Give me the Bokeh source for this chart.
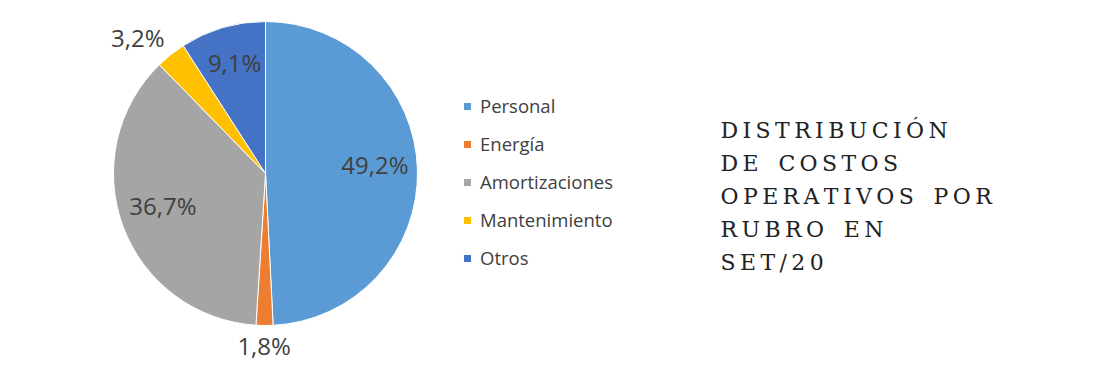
import math
import numpy as np
from bokeh.plotting import figure
from bokeh.models import Range1d, Legend, LegendItem, ColumnDataSource
from bokeh.core.properties import value
from bokeh.embed import file_html
from bokeh.resources import INLINE

# ---- data ----
categories = ["Personal", "Energía", "Amortizaciones", "Mantenimiento", "Otros"]
shares = [49.2, 1.8, 36.7, 3.2, 9.1]
labels = ["49,2%", "1,8%", "36,7%", "3,2%", "9,1%"]
colors = ["#5b9bd5", "#ed7d31", "#a5a5a5", "#ffc000", "#4472c4"]
title_lines = ["DISTRIBUCIÓN", "DE COSTOS", "OPERATIVOS POR", "RUBRO EN", "SET/20"]

W, H = 1084, 365
p = figure(width=W, height=H, x_range=Range1d(0, W), y_range=Range1d(0, H),
           output_backend="svg", toolbar_location=None, min_border=0)
p.axis.visible = False
p.grid.visible = False
p.outline_line_color = None
p.background_fill_color = "white"

cx, cy, R = 265, 365 - 173, 152

vals = np.array(shares, dtype=float)
frac = vals / vals.sum()
cum = np.concatenate([[0], np.cumsum(frac)])
start = math.pi / 2 - 2 * math.pi * cum[:-1]
end = math.pi / 2 - 2 * math.pi * cum[1:]

src = ColumnDataSource(dict(x=[cx] * len(vals), y=[cy] * len(vals), start=start, end=end,
                            color=colors, cat=categories))
wr = p.wedge(x="x", y="y", radius=R, start_angle="start", end_angle="end", direction="clock",
             fill_color="color", line_color="white", line_width=1, source=src)

# percentage labels
mid = (start + end) / 2
dx, dy = np.cos(mid), np.sin(mid)
lx, ly = [], []
fs = 24
for i, v in enumerate(vals):
    if v < 5:
        w = len(labels[i]) * 0.56 * fs
        h = fs * 0.8
        g = 10
        lx.append(cx + (R + g) * dx[i] + w / 2 * np.clip(dx[i] * 2, -1, 1))
        ly.append(cy + (R + g) * dy[i] + h / 2 * np.clip(dy[i] * 2, -1, 1))
    else:
        lx.append(cx + 0.72 * R * dx[i])
        ly.append(cy + 0.72 * R * dy[i] + 6)
p.text(x=lx, y=ly, text=labels, text_font=value("Open Sans"), text_font_size=f"{fs}px",
       text_color="#404040", text_align="center", text_baseline="middle")

# legend
items = [LegendItem(label=c, renderers=[wr], index=i) for i, c in enumerate(categories)]
legend = Legend(items=items, location=(462, 95), orientation="vertical",
                glyph_width=10, glyph_height=10, label_standoff=8,
                label_text_font="Open Sans", label_text_font_size="18.5px",
                label_text_color="#404040", label_height=20, spacing=13,
                padding=0, margin=0, border_line_color=None, background_fill_alpha=0)
p.add_layout(legend, "center")

# title with letter spacing
def spaced(s):
    words = s.split(" ")
    return "\u2002\u2009\u2009".join("\u2009".join(list(wd)) for wd in words)

tx = 720
ty0 = 365 - 130
pitch = 33
p.text(x=[tx] * len(title_lines), y=[ty0 - i * pitch for i in range(len(title_lines))],
       text=[spaced(t) for t in title_lines], text_font=value("DejaVu Serif"),
       text_font_size="22px", text_color="#222222", text_align="left",
       text_baseline="alphabetic")

open("out.html", "w").write(file_html(p, INLINE))
